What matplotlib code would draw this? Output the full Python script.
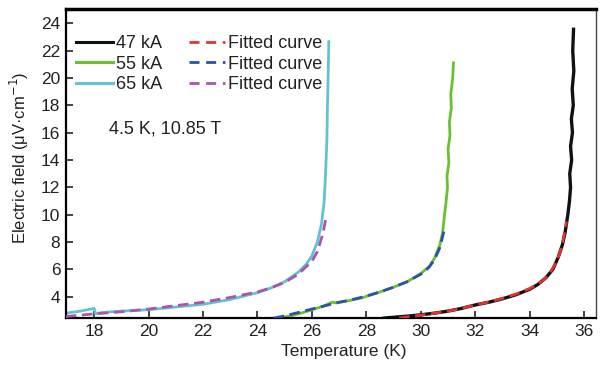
import matplotlib
matplotlib.use("Agg")
import matplotlib.pyplot as plt
from matplotlib.lines import Line2D

plt.rcParams['font.family'] = ['Liberation Sans', 'DejaVu Sans']

# ---- data ----
T_65 = [16.96, 17.5, 18.0, 18.05, 18.3, 19, 20, 21, 22, 23, 24, 24.5, 25, 25.5, 25.8, 26.0,
        26.2, 26.35, 26.45, 26.5, 26.55, 26.57, 26.6, 26.62]
E_65 = [2.8, 2.95, 3.15, 2.75, 2.85, 2.95, 3.05, 3.25, 3.45, 3.8, 4.3, 4.65, 5.1, 5.8, 6.4, 7.0,
        8.0, 9.3, 11, 13, 15.5, 18, 20.5, 22.65]

T_65fit = [16.96, 18, 19, 20, 21, 22, 23, 24, 24.5, 25, 25.5, 26, 26.2, 26.4, 26.5]
E_65fit = [2.55, 2.75, 2.9, 3.1, 3.35, 3.6, 3.95, 4.35, 4.65, 5.05, 5.65, 6.6, 7.3, 8.6, 9.6]

T_55 = [24.75, 25.2, 25.6, 26.0, 26.4, 26.75, 26.9, 27.2, 27.8, 28.5, 29, 29.5, 30, 30.3, 30.5,
        30.7, 30.8, 30.86, 30.93, 30.98, 30.96, 31.03, 31.0, 31.07, 31.05, 31.12, 31.1, 31.17, 31.2]
E_55 = [2.44, 2.6, 2.8, 3.05, 3.3, 3.6, 3.55, 3.65, 3.9, 4.35, 4.7, 5.1, 5.7, 6.2, 6.8,
        7.8, 8.7, 9.8, 11, 12, 12.8, 13.8, 14.8, 15.8, 16.8, 17.8, 18.8, 20, 21.1]

T_55fit = [24.6, 25, 25.5, 26, 26.5, 27, 27.5, 28, 28.5, 29, 29.5, 30, 30.3, 30.5, 30.7, 30.85]
E_55fit = [2.44, 2.6, 2.85, 3.1, 3.35, 3.6, 3.8, 4.05, 4.35, 4.7, 5.1, 5.65, 6.15, 6.7, 7.6, 8.8]

T_47 = [28.65, 29, 29.5, 30, 30.5, 31, 31.5, 32, 32.5, 33, 33.5, 34, 34.3, 34.6, 34.85, 35.05,
        35.2, 35.3, 35.4, 35.46, 35.5, 35.47, 35.54, 35.5, 35.57, 35.53, 35.6, 35.56, 35.62,
        35.58, 35.61]
E_47 = [2.44, 2.5, 2.58, 2.68, 2.8, 2.95, 3.15, 3.4, 3.6, 3.85, 4.15, 4.55, 4.9, 5.4, 6.0, 6.9,
        7.8, 8.7, 10, 11, 12, 13, 14, 15, 16, 17, 18, 19.2, 20.5, 22, 23.56]

T_47fit = [29.2, 29.6, 30, 30.5, 31, 31.5, 32, 32.5, 33, 33.5, 34, 34.4, 34.7, 35, 35.2, 35.35]
E_47fit = [2.44, 2.55, 2.65, 2.8, 2.95, 3.15, 3.4, 3.62, 3.88, 4.2, 4.6, 5.05, 5.6, 6.6, 7.8, 9.5]

x_ticks = [18, 20, 22, 24, 26, 28, 30, 32, 34, 36]
y_ticks = [4, 6, 8, 10, 12, 14, 16, 18, 20, 22, 24]
labels = ["47 kA", "55 kA", "65 kA"]
fit_label = "Fitted curve"

c_black = "#111111"
c_green = "#6cbf30"
c_cyan = "#62c2d2"
c_red = "#e2342c"
c_blue = "#2a52a8"
c_mag = "#a855ab"
txt = '#222222'

fig = plt.figure(figsize=(6.04, 3.69), dpi=100)
ax = fig.add_axes([0.109, 0.138, 0.878, 0.838])

lw = 2.0
dash = (0, (3.8, 2.0))
ax.plot(T_65, E_65, color=c_cyan, lw=lw, zorder=2)
ax.plot(T_65fit, E_65fit, color=c_mag, lw=lw, ls=dash, zorder=3)
ax.plot(T_55, E_55, color=c_green, lw=lw, zorder=2)
ax.plot(T_55fit, E_55fit, color=c_blue, lw=lw, ls=dash, zorder=3)
ax.plot(T_47, E_47, color=c_black, lw=lw + 0.4, zorder=2)
ax.plot(T_47fit, E_47fit, color=c_red, lw=lw, ls=dash, zorder=3)

ax.set_xlim(16.96, 36.44)
ax.set_ylim(2.44, 25.05)
ax.set_xticks(x_ticks)
ax.set_yticks(y_ticks)
ax.tick_params(direction='in', length=5, width=1.2, labelsize=12.5, pad=4, colors=txt)
ax.tick_params(top=False, right=False)

for side, w in [('top', 2.5), ('left', 1.6), ('bottom', 1.6), ('right', 1.0)]:
    ax.spines[side].set_linewidth(w)
ax.spines['right'].set_color('#444444')

ax.set_xlabel("Temperature (K)", fontsize=12.5, color=txt, labelpad=4)
ax.xaxis.set_label_coords(0.525, -0.085)
ax.set_ylabel("Electric field (μV·cm$^{-1}$)", fontsize=12, color=txt)
ax.yaxis.set_label_coords(-0.066, 0.52)

ax.text(18.55, 16.3, "4.5 K, 10.85 T", fontsize=13, color=txt, va='center', ha='left')

handles = [
    Line2D([], [], color=c_black, lw=2.2),
    Line2D([], [], color=c_green, lw=2.2),
    Line2D([], [], color=c_cyan, lw=2.2),
    Line2D([], [], color=c_red, lw=2.0, ls=(0, (3.6, 2.4))),
    Line2D([], [], color=c_blue, lw=2.0, ls=(0, (3.6, 2.4))),
    Line2D([], [], color=c_mag, lw=2.0, ls=(0, (3.6, 2.4))),
]
leg = ax.legend(handles, labels + [fit_label] * 3, ncol=2, loc='upper left',
                bbox_to_anchor=(0.02, 0.916), frameon=False, fontsize=13,
                handlelength=2.0, handletextpad=0.17, labelspacing=0.21,
                columnspacing=1.5, borderaxespad=0, borderpad=0)
for t in leg.get_texts():
    t.set_color(txt)

fig.savefig("out.png", dpi=100)
